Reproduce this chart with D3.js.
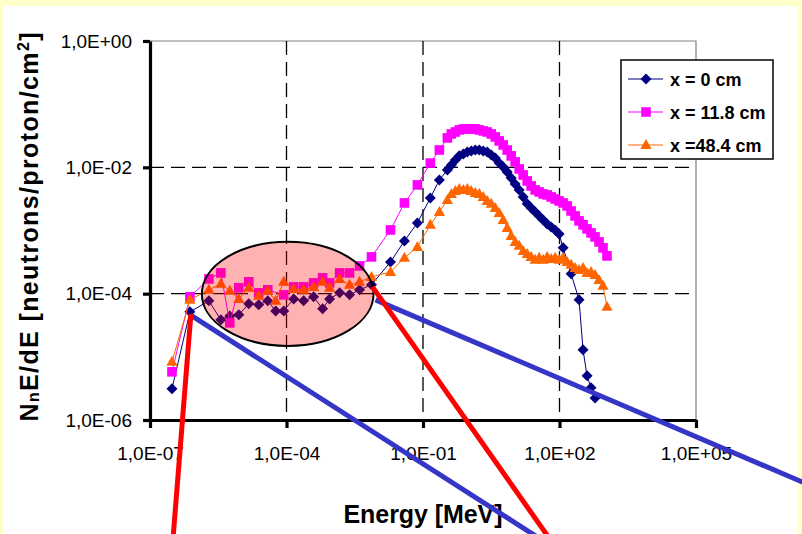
<!DOCTYPE html>
<html>
<head>
<meta charset="utf-8">
<script src="https://cdn.jsdelivr.net/npm/d3@7"></script>
<style>
  body { margin: 0; background: #ffffff; }
  svg { display: block; }
  text { font-family: "Liberation Sans", Arial, sans-serif; fill: #000; }
</style>
</head>
<body>
<svg id="chart" width="802" height="534"></svg>
<script>
// Neutron energy spectra, N_n E dN/dE, at three depths (x) behind the target.
// Shared energy bins [MeV]
const energy = [3.04e-7, 7.53e-7, 1.97e-6, 3.61e-6, 5.67e-6, 8.95e-6, 1.48e-5, 2.45e-5, 3.87e-5, 5.79e-5,
  8.69e-5, 1.44e-4, 2.38e-4, 3.94e-4, 6.22e-4, 8.85e-4, 1.47e-3, 2.43e-3, 4.03e-3, 7.38e-3,
  1.93e-2, 3.91e-2, 7.53e-2, 0.145, 0.229, 0.343, 0.420, 0.514, 0.628, 0.769,
  0.942, 1.15, 1.41, 1.73, 2.11, 2.58, 3.16, 3.87, 4.73, 5.79,
  7.09, 8.68, 10.6, 13.0, 15.9, 19.5, 23.8, 29.2, 35.7, 43.7,
  53.5, 65.5, 80.1, 98.0, 120, 147, 180, 220, 269, 329,
  403, 493, 604, 739, 904, 1106];

// x = 0 cm
const fluxX0 = [3.12e-6, 5.15e-5, 7.69e-5, 3.85e-5, 4.45e-5, 4.62e-5, 6.90e-5, 6.65e-5, 7.69e-5, 5.34e-5,
  5.34e-5, 8.27e-5, 7.69e-5, 8.90e-5, 5.75e-5, 8.27e-5, 1.03e-4, 9.57e-5, 1.15e-4, 1.38e-4,
  3.18e-4, 6.85e-4, 1.32e-3, 3.28e-3, 6.32e-3, 9.10e-3, 1.09e-2, 1.31e-2, 1.52e-2, 1.63e-2,
  1.75e-2, 1.82e-2, 1.88e-2, 1.88e-2, 1.82e-2, 1.75e-2, 1.57e-2, 1.41e-2, 1.17e-2, 1.01e-2,
  8.46e-3, 6.80e-3, 5.46e-3, 4.39e-3, 3.40e-3, 2.64e-3, 2.28e-3, 1.97e-3, 1.70e-3, 1.47e-3,
  1.27e-3, 1.14e-3, 1.02e-3, 8.84e-4, 5.31e-4, null, 2.06e-4, null, 7.98e-5, 1.29e-5,
  5.00e-6, 3.23e-6, 2.24e-6, null, null, null];

// x = 11.8 cm
const fluxX11 = [5.79e-6, 8.90e-5, 1.71e-4, 2.13e-4, 3.45e-5, 1.24e-4, 1.54e-4, 1.03e-4, 1.15e-4, null,
  9.57e-5, 1.28e-4, 1.28e-4, 1.48e-4, 1.78e-4, 1.48e-4, 2.13e-4, 2.13e-4, 2.75e-4, 3.82e-4,
  1.02e-3, 2.73e-3, 5.27e-3, 1.17e-2, 1.88e-2, 2.92e-2, 3.38e-2, 3.63e-2, 3.91e-2, 4.05e-2,
  4.05e-2, 4.05e-2, 4.05e-2, 3.91e-2, 3.77e-2, 3.63e-2, 3.38e-2, 3.03e-2, 2.62e-2, 2.26e-2,
  1.88e-2, 1.52e-2, 1.22e-2, 9.43e-3, 7.58e-3, 6.09e-3, 5.08e-3, 4.39e-3, 4.08e-3, 3.79e-3,
  3.66e-3, 3.40e-3, 3.16e-3, 2.94e-3, 2.73e-3, 2.45e-3, 2.04e-3, 1.70e-3, 1.42e-3, 1.23e-3,
  1.06e-3, 9.16e-4, 7.92e-4, 6.60e-4, 5.31e-4, 3.96e-4];

// x = 48.4 cm
const fluxX48 = [8.34e-6, 7.98e-5, 1.15e-4, 1.43e-4, 1.11e-4, 8.27e-5, 1.24e-4, 9.23e-5, 1.11e-4, 7.69e-5,
  1.54e-4, 1.19e-4, 1.15e-4, 1.28e-4, 1.54e-4, 1.24e-4, 1.71e-4, 1.38e-4, 1.54e-4, 1.84e-4,
  2.21e-4, 3.69e-4, 5.50e-4, 1.23e-3, 1.97e-3, 3.05e-3, 3.79e-3, 4.23e-3, 4.55e-3, 4.39e-3,
  4.55e-3, 4.23e-3, 3.93e-3, 3.79e-3, 3.40e-3, 2.94e-3, 2.64e-3, 2.28e-3, 1.90e-3, 1.47e-3,
  1.10e-3, 8.22e-4, 6.60e-4, 5.71e-4, 4.75e-4, 4.26e-4, 3.82e-4, 3.43e-4, 3.69e-4, 3.43e-4,
  3.82e-4, 3.55e-4, 3.69e-4, 3.43e-4, 3.69e-4, 3.18e-4, 2.86e-4, 2.56e-4, 2.38e-4, 2.56e-4,
  2.13e-4, 2.21e-4, 1.98e-4, 1.65e-4, 1.33e-4, 6.18e-5];

const seriesNames = ["x = 0 cm", "x = 11.8 cm", "x =48.4 cm"];
const seriesColors = ["#000080", "#ff00ff", "#ff6600"];
const seriesShapes = ["diamond", "square", "triangle"];
const seriesValues = [fluxX0, fluxX11, fluxX48];

const xTickValues = [1e-7, 1e-4, 1e-1, 1e2, 1e5];
const xTickLabels = ["1,0E-07", "1,0E-04", "1,0E-01", "1,0E+02", "1,0E+05"];
const yTickValues = [1, 1e-2, 1e-4, 1e-6];
const yTickLabels = ["1,0E+00", "1,0E-02", "1,0E-04", "1,0E-06"];
const xGridValues = [1e-4, 1e-1, 1e2];
const yGridValues = [1e-2, 1e-4];

// Highlighted thermal/epithermal plateau (energy and flux bounds)
const highlight = { eMin: 1.38e-6, eMax: 8.17e-3, vMin: 1.49e-5, vMax: 6.61e-4 };
// Call-out lines leading to a detail view: [E1, V1, E2, V2]
const calloutBlue = [[8.34e-7, 4.45e-5, 40.3, 1.27e-8], [9.04e-3, 7.98e-5, 2.98e7, 9.46e-8]];
const calloutRed = [[7.93e-7, 4.79e-5, 3.19e-7, 1.27e-8], [7.76e-3, 1.28e-4, 62.8, 1.27e-8]];

const svg = d3.select("#chart");
const W = 802, H = 534;

// page background and white chart area
svg.append("rect").attr("width", W).attr("height", H).attr("fill", "#ffffcc");
svg.append("rect").attr("x", 3).attr("y", 6).attr("width", 795).attr("height", H).attr("fill", "#ffffff");

const x = d3.scaleLog().domain([1e-7, 1e5]).range([150, 696]);
const y = d3.scaleLog().domain([1e-6, 1]).range([420, 41]);

// frame (top/right)
svg.append("path")
  .attr("d", `M${x(1e-7)},${y(1)}H${x(1e5)}V${y(1e-6)}`)
  .attr("fill", "none").attr("stroke", "#808080").attr("stroke-width", 1.2);

// dashed gridlines
const grid = svg.append("g").attr("stroke", "#000").attr("stroke-width", 1.3)
  .attr("stroke-dasharray", "14,7").attr("fill", "none");
grid.selectAll("line.gx").data(xGridValues).join("line").attr("class", "gx")
  .attr("x1", d => x(d)).attr("x2", d => x(d)).attr("y1", y(1)).attr("y2", y(1e-6));
grid.selectAll("line.gy").data(yGridValues).join("line").attr("class", "gy")
  .attr("y1", d => y(d)).attr("y2", d => y(d)).attr("x1", x(1e-7)).attr("x2", x(1e5));

// series
const markerPath = {
  diamond: "M0,-5.5L5.5,0L0,5.5L-5.5,0Z",
  square: "M-4.8,-4.8H4.8V4.8H-4.8Z",
  triangle: "M0,-6L5.6,4L-5.6,4Z"
};
const line = d3.line().x(d => x(d[0])).y(d => y(d[1]));

seriesValues.forEach((vals, i) => {
  const pts = energy.map((e, k) => [e, vals[k]]).filter(d => d[1] != null);
  const g = svg.append("g");
  g.append("path").attr("d", line(pts)).attr("fill", "none")
    .attr("stroke", seriesColors[i]).attr("stroke-width", 1);
  g.selectAll("path.m").data(pts).join("path").attr("class", "m")
    .attr("d", markerPath[seriesShapes[i]])
    .attr("transform", d => `translate(${x(d[0])},${y(d[1])})`)
    .attr("fill", seriesColors[i]);
});

// highlight ellipse
const ex1 = x(highlight.eMin), ex2 = x(highlight.eMax);
const ey1 = y(highlight.vMax), ey2 = y(highlight.vMin);
svg.append("ellipse")
  .attr("cx", (ex1 + ex2) / 2).attr("cy", (ey1 + ey2) / 2)
  .attr("rx", (ex2 - ex1) / 2).attr("ry", (ey2 - ey1) / 2)
  .attr("fill", "rgba(255,0,0,0.3)").attr("stroke", "#000").attr("stroke-width", 2);

// axes
const yAxis = svg.append("g").attr("transform", `translate(${x(1e-7)},0)`)
  .call(d3.axisLeft(y).tickValues(yTickValues).tickFormat((d, i) => yTickLabels[i])
    .tickSize(7).tickPadding(11).tickSizeOuter(0));
const xAxis = svg.append("g").attr("transform", `translate(0,${y(1e-6)})`)
  .call(d3.axisBottom(x).tickValues(xTickValues).tickFormat((d, i) => xTickLabels[i])
    .tickSize(8).tickPadding(19).tickSizeOuter(0));
[xAxis, yAxis].forEach(a => {
  a.select(".domain").attr("stroke", "#000").attr("stroke-width", 3.2);
  a.selectAll(".tick line").attr("stroke", "#000").attr("stroke-width", 3.2);
  a.selectAll(".tick text").attr("font-family", "Liberation Sans, Arial, sans-serif")
    .attr("font-size", 19).attr("fill", "#000");
});

// axis titles
const yTitle = svg.append("text")
  .attr("transform", "translate(38,227) rotate(-90)")
  .attr("text-anchor", "middle").attr("font-weight", "bold").attr("font-size", 25)
  .attr("textLength", 389).attr("lengthAdjust", "spacing");
yTitle.append("tspan").text("N");
yTitle.append("tspan").attr("font-size", 16).attr("dy", 1).text("n");
yTitle.append("tspan").attr("dy", -1).text("E/dE [neutrons/proton/cm");
yTitle.append("tspan").attr("font-size", 16).attr("dy", -9).text("2");
yTitle.append("tspan").attr("dy", 9).text("]");

svg.append("text").attr("x", 423).attr("y", 523)
  .attr("text-anchor", "middle").attr("font-weight", "bold").attr("font-size", 25)
  .attr("textLength", 159).attr("lengthAdjust", "spacing")
  .text("Energy [MeV]");

// legend
const lg = svg.append("g");
lg.append("rect").attr("x", 621).attr("y", 60).attr("width", 152).attr("height", 99)
  .attr("fill", "#fff").attr("stroke", "#000").attr("stroke-width", 1.5);
seriesNames.forEach((name, i) => {
  const cy = 79 + i * 33;
  lg.append("line").attr("x1", 628).attr("x2", 663).attr("y1", cy).attr("y2", cy)
    .attr("stroke", seriesColors[i]).attr("stroke-width", 1);
  lg.append("path").attr("d", markerPath[seriesShapes[i]])
    .attr("transform", `translate(646,${cy})`).attr("fill", seriesColors[i]);
  lg.append("text").attr("x", 670).attr("y", cy + 6.5)
    .attr("font-size", 18).attr("font-weight", "bold").text(name);
});

// call-out lines
const callout = svg.append("g").attr("fill", "none").attr("stroke-width", 5).attr("stroke-linecap", "butt");
callout.selectAll("line.b").data(calloutBlue).join("line").attr("class", "b")
  .attr("x1", d => x(d[0])).attr("y1", d => y(d[1])).attr("x2", d => x(d[2])).attr("y2", d => y(d[3]))
  .attr("stroke", "#3535c8");
callout.selectAll("line.r").data(calloutRed).join("line").attr("class", "r")
  .attr("x1", d => x(d[0])).attr("y1", d => y(d[1])).attr("x2", d => x(d[2])).attr("y2", d => y(d[3]))
  .attr("stroke", "#ff0000");
</script>
</body>
</html>
